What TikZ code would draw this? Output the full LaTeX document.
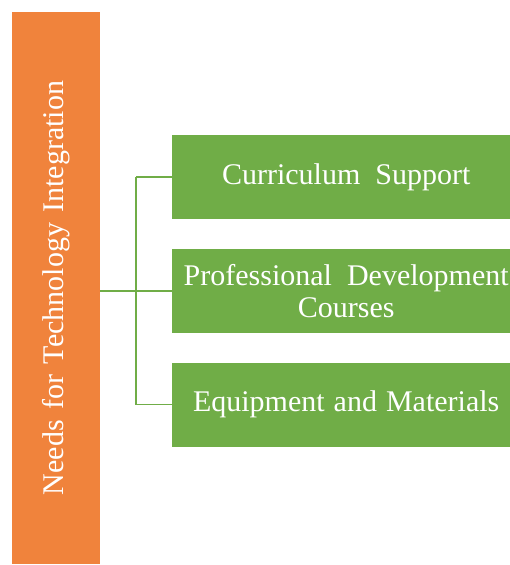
\documentclass[tikz,border=0pt]{standalone}
\usepackage{fontspec}
\setmainfont{Liberation Serif}
\definecolor{orangeC}{HTML}{F0833C}
\definecolor{greenC}{HTML}{70AD47}
\newcommand{\sh}{\hspace*{10pt}}
\begin{document}
\begin{tikzpicture}[x=1pt,y=-1pt,
  bigtext/.style={font=\fontsize{30}{32}\selectfont, text=white},
  mainbox/.style={fill=orangeC, draw=none, minimum width=552pt, minimum height=88pt, inner sep=0pt, bigtext},
  leafbox/.style={fill=greenC, draw=none, minimum width=338pt, minimum height=84pt, inner sep=0pt, text width=338pt, align=center, anchor=west, bigtext},
  link/.style={draw=greenC, line width=1.2pt},
  trunk/.style={draw=greenC, line width=2pt}]
\useasboundingbox (0,0) rectangle (510,565);
\node[mainbox, rotate=90] (root) at (56,288) {Needs\hspace{0.35em}for\hspace{0.35em}Technology\hspace{0.35em}Integration};
\node[leafbox] (b1) at (172,177) {\sh Curriculum\hspace{0.5em}Support};
\node[leafbox] (b2) at (172,291) {\sh Professional\hspace{0.5em}Development\\\sh Courses};
\node[leafbox] (b3) at (172,404.5) {\sh Equipment\hspace{0.3em}and\hspace{0.3em}Materials};
\coordinate (j) at (136,291);
\draw[trunk] (root.south |- b2.west) -- (b2.west);
\draw[link] (j |- b1.west) -- (j |- b3.west);
\draw[link] (j |- b1.west) -- (b1.west);
\draw[link] (j |- b3.west) -- (b3.west);
\end{tikzpicture}
\end{document}
